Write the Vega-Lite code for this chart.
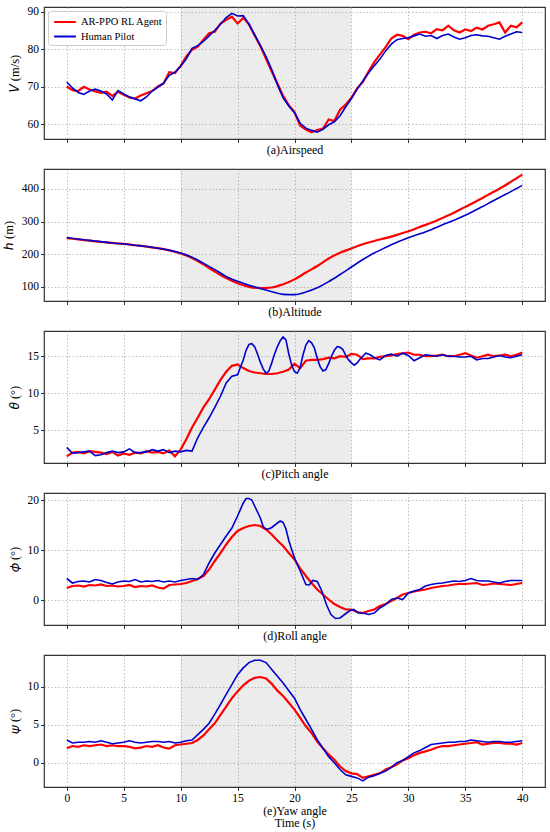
{
  "$schema": "https://vega.github.io/schema/vega-lite/v6.json",
  "description": "Flight state comparison: AR-PPO RL agent vs human pilot",
  "padding": {"left": 1, "top": 4, "right": 5, "bottom": 5},
  "background": "white",
  "datasets": {
    "shade": [{"start": 10, "end": 25}],
    "vA": [
      {"t":0,"v":70.0},{"t":0.5,"v":69.0},{"t":1,"v":68.8},{"t":1.5,"v":69.9},{"t":2,"v":69.2},{"t":2.5,"v":68.7},{"t":3,"v":68.3},{"t":3.5,"v":68.6},{"t":4,"v":67.5},{"t":4.5,"v":68.6},
      {"t":5,"v":67.8},{"t":5.5,"v":67.1},{"t":6,"v":66.8},{"t":6.5,"v":67.6},{"t":7,"v":68.2},{"t":7.5,"v":68.8},{"t":8,"v":70.0},{"t":8.5,"v":70.8},{"t":9,"v":73.8},{"t":9.5,"v":73.6},
      {"t":10,"v":75.5},{"t":10.5,"v":78.0},{"t":11,"v":79.8},{"t":11.5,"v":80.6},{"t":12,"v":82.5},{"t":12.5,"v":84.2},{"t":13,"v":84.6},{"t":13.5,"v":86.8},{"t":14,"v":87.8},{"t":14.5,"v":88.6},
      {"t":15,"v":86.8},{"t":15.5,"v":88.3},{"t":16,"v":86.6},{"t":16.5,"v":83.6},{"t":17,"v":80.8},{"t":17.5,"v":77.4},{"t":18,"v":74.0},{"t":18.5,"v":70.8},{"t":19,"v":67.5},{"t":19.5,"v":65.0},
      {"t":20,"v":63.2},{"t":20.5,"v":59.5},{"t":21,"v":58.5},{"t":21.5,"v":57.8},{"t":22,"v":58.4},{"t":22.5,"v":58.8},{"t":23,"v":61.2},{"t":23.5,"v":60.8},{"t":24,"v":63.8},{"t":24.5,"v":65.2},
      {"t":25,"v":67.0},{"t":25.5,"v":69.5},{"t":26,"v":71.2},{"t":26.5,"v":74.0},{"t":27,"v":76.5},{"t":27.5,"v":78.5},{"t":28,"v":80.5},{"t":28.5,"v":82.8},{"t":29,"v":83.8},{"t":29.5,"v":83.5},
      {"t":30,"v":82.6},{"t":30.5,"v":83.8},{"t":31,"v":84.4},{"t":31.5,"v":84.6},{"t":32,"v":84.2},{"t":32.5,"v":85.3},{"t":33,"v":85.0},{"t":33.5,"v":86.2},{"t":34,"v":85.0},{"t":34.5,"v":84.4},
      {"t":35,"v":85.2},{"t":35.5,"v":84.8},{"t":36,"v":85.7},{"t":36.5,"v":85.2},{"t":37,"v":86.2},{"t":37.5,"v":86.6},{"t":38,"v":87.1},{"t":38.5,"v":84.4},{"t":39,"v":86.2},{"t":39.5,"v":85.8},{"t":40,"v":87.1}
    ],
    "vP": [
      {"t":0,"v":71.2},{"t":0.5,"v":69.6},{"t":1,"v":68.4},{"t":1.5,"v":67.9},{"t":2,"v":68.8},{"t":2.5,"v":69.3},{"t":3,"v":68.8},{"t":3.5,"v":68.0},{"t":4,"v":66.4},{"t":4.5,"v":68.9},
      {"t":5,"v":68.0},{"t":5.5,"v":67.2},{"t":6,"v":66.7},{"t":6.5,"v":66.2},{"t":7,"v":67.2},{"t":7.5,"v":68.8},{"t":8,"v":69.8},{"t":8.5,"v":70.9},{"t":9,"v":73.0},{"t":9.5,"v":73.8},
      {"t":10,"v":75.4},{"t":10.5,"v":77.4},{"t":11,"v":80.2},{"t":11.5,"v":80.9},{"t":12,"v":82.0},{"t":12.5,"v":83.5},{"t":13,"v":85.0},{"t":13.5,"v":86.6},{"t":14,"v":88.4},{"t":14.5,"v":89.5},
      {"t":15,"v":88.8},{"t":15.5,"v":88.9},{"t":16,"v":86.6},{"t":16.5,"v":83.8},{"t":17,"v":81.0},{"t":17.5,"v":78.0},{"t":18,"v":74.5},{"t":18.5,"v":70.5},{"t":19,"v":67.0},{"t":19.5,"v":64.8},
      {"t":20,"v":63.0},{"t":20.5,"v":60.2},{"t":21,"v":58.9},{"t":21.5,"v":58.3},{"t":22,"v":57.8},{"t":22.5,"v":58.6},{"t":23,"v":59.8},{"t":23.5,"v":60.6},{"t":24,"v":62.2},{"t":24.5,"v":64.6},
      {"t":25,"v":66.8},{"t":25.5,"v":69.3},{"t":26,"v":71.5},{"t":26.5,"v":73.6},{"t":27,"v":75.5},{"t":27.5,"v":77.3},{"t":28,"v":79.5},{"t":28.5,"v":81.3},{"t":29,"v":82.5},{"t":29.5,"v":82.8},
      {"t":30,"v":83.0},{"t":30.5,"v":83.5},{"t":31,"v":84.0},{"t":31.5,"v":83.4},{"t":32,"v":83.6},{"t":32.5,"v":82.8},{"t":33,"v":83.6},{"t":33.5,"v":84.0},{"t":34,"v":83.2},{"t":34.5,"v":82.6},
      {"t":35,"v":83.0},{"t":35.5,"v":83.6},{"t":36,"v":83.8},{"t":36.5,"v":83.5},{"t":37,"v":83.4},{"t":37.5,"v":83.0},{"t":38,"v":82.6},{"t":38.5,"v":83.4},{"t":39,"v":84.0},{"t":39.5,"v":84.6},{"t":40,"v":84.4}
    ],
    "hA": [
      {"t":0,"v":249},{"t":1,"v":245},{"t":2,"v":241},{"t":3,"v":237},{"t":4,"v":234},{"t":5,"v":231},{"t":6,"v":227},{"t":7,"v":223},{"t":8,"v":218},{"t":9,"v":211},
      {"t":10,"v":202},{"t":11,"v":188},{"t":12,"v":168},{"t":13,"v":146},{"t":14,"v":126},{"t":15,"v":110},{"t":16,"v":99},{"t":17,"v":95},{"t":18,"v":97},{"t":19,"v":107},
      {"t":20,"v":122},{"t":21,"v":143},{"t":22,"v":163},{"t":23,"v":186},{"t":24,"v":204},{"t":25,"v":217},{"t":26,"v":230},{"t":27,"v":240},{"t":28,"v":249},{"t":29,"v":259},
      {"t":30,"v":270},{"t":31,"v":283},{"t":32,"v":296},{"t":33,"v":311},{"t":34,"v":327},{"t":35,"v":345},{"t":36,"v":363},{"t":37,"v":382},{"t":38,"v":401},{"t":39,"v":422},{"t":40,"v":444}
    ],
    "hP": [
      {"t":0,"v":251},{"t":1,"v":246},{"t":2,"v":242},{"t":3,"v":238},{"t":4,"v":234},{"t":5,"v":231},{"t":6,"v":227},{"t":7,"v":223},{"t":8,"v":218},{"t":9,"v":212},
      {"t":10,"v":203},{"t":11,"v":190},{"t":12,"v":172},{"t":13,"v":152},{"t":14,"v":131},{"t":15,"v":116},{"t":16,"v":104},{"t":17,"v":94},{"t":18,"v":84},{"t":19,"v":76},
      {"t":20,"v":75},{"t":21,"v":83},{"t":22,"v":96},{"t":23,"v":115},{"t":24,"v":137},{"t":25,"v":160},{"t":26,"v":183},{"t":27,"v":203},{"t":28,"v":220},{"t":29,"v":236},
      {"t":30,"v":250},{"t":31,"v":262},{"t":32,"v":275},{"t":33,"v":290},{"t":34,"v":304},{"t":35,"v":319},{"t":36,"v":337},{"t":37,"v":355},{"t":38,"v":374},{"t":39,"v":392},{"t":40,"v":411}
    ],
    "thA": [
      {"t":0,"v":1.5},{"t":0.5,"v":2.0},{"t":1,"v":2.1},{"t":1.5,"v":1.9},{"t":2,"v":2.2},{"t":2.5,"v":2.1},{"t":3,"v":2.0},{"t":3.5,"v":1.8},{"t":4,"v":2.1},{"t":4.5,"v":1.6},
      {"t":5,"v":1.9},{"t":5.5,"v":1.7},{"t":6,"v":2.0},{"t":6.5,"v":1.9},{"t":7,"v":2.2},{"t":7.5,"v":2.0},{"t":8,"v":2.1},{"t":8.5,"v":1.9},{"t":9,"v":2.3},{"t":9.5,"v":1.5},
      {"t":10,"v":2.4},{"t":10.5,"v":3.8},{"t":11,"v":5.4},{"t":11.5,"v":6.7},{"t":12,"v":8.1},{"t":12.5,"v":9.2},{"t":13,"v":10.5},{"t":13.5,"v":11.8},{"t":14,"v":12.9},{"t":14.5,"v":13.7},
      {"t":15,"v":13.9},{"t":15.5,"v":13.4},{"t":16,"v":13.0},{"t":16.5,"v":12.8},{"t":17,"v":12.7},{"t":17.5,"v":12.6},{"t":18,"v":12.6},{"t":18.5,"v":12.7},{"t":19,"v":12.9},{"t":19.5,"v":13.2},
      {"t":20,"v":14.0},{"t":20.5,"v":13.4},{"t":21,"v":14.4},{"t":21.5,"v":14.5},{"t":22,"v":14.5},{"t":22.5,"v":14.6},{"t":23,"v":14.8},{"t":23.5,"v":14.7},{"t":24,"v":15.0},{"t":24.5,"v":14.9},
      {"t":25,"v":15.3},{"t":25.5,"v":15.2},{"t":26,"v":14.6},{"t":26.5,"v":14.7},{"t":27,"v":14.7},{"t":27.5,"v":14.9},{"t":28,"v":15.0},{"t":28.5,"v":15.1},{"t":29,"v":15.3},{"t":29.5,"v":15.4},
      {"t":30,"v":15.5},{"t":30.5,"v":15.2},{"t":31,"v":15.2},{"t":31.5,"v":15.0},{"t":32,"v":15.0},{"t":32.5,"v":15.1},{"t":33,"v":15.2},{"t":33.5,"v":15.0},{"t":34,"v":15.0},{"t":34.5,"v":15.2},
      {"t":35,"v":15.4},{"t":35.5,"v":15.1},{"t":36,"v":14.8},{"t":36.5,"v":15.0},{"t":37,"v":15.2},{"t":37.5,"v":15.0},{"t":38,"v":15.1},{"t":38.5,"v":15.2},{"t":39,"v":15.0},{"t":39.5,"v":15.2},{"t":40,"v":15.5}
    ],
    "thP": [
      {"t":0,"v":2.7},{"t":0.5,"v":1.9},{"t":1,"v":2.0},{"t":1.5,"v":2.1},{"t":2,"v":2.2},{"t":2.5,"v":1.6},{"t":3,"v":1.7},{"t":3.5,"v":2.0},{"t":4,"v":2.2},{"t":4.5,"v":2.0},
      {"t":5,"v":2.1},{"t":5.5,"v":2.5},{"t":6,"v":2.0},{"t":6.5,"v":2.0},{"t":7,"v":2.1},{"t":7.5,"v":2.4},{"t":8,"v":2.2},{"t":8.5,"v":2.4},{"t":9,"v":2.0},{"t":9.5,"v":2.2},
      {"t":10,"v":2.1},{"t":10.5,"v":2.3},{"t":11,"v":2.2},{"t":11.5,"v":4.0},{"t":12,"v":5.4},{"t":12.5,"v":6.7},{"t":13,"v":8.1},{"t":13.5,"v":9.6},{"t":14,"v":11.4},{"t":14.5,"v":12.3},
      {"t":15,"v":12.5},{"t":15.25,"v":13.5},{"t":15.5,"v":14.5},{"t":15.75,"v":15.8},{"t":16,"v":16.6},{"t":16.25,"v":16.7},{"t":16.5,"v":16.3},{"t":16.75,"v":15.3},{"t":17,"v":14.2},{"t":17.25,"v":13.3},
      {"t":17.5,"v":12.7},{"t":17.75,"v":13.0},{"t":18,"v":14.1},{"t":18.25,"v":15.3},{"t":18.5,"v":16.3},{"t":18.75,"v":17.1},{"t":19,"v":17.6},{"t":19.25,"v":17.2},{"t":19.5,"v":15.3},{"t":19.75,"v":13.8},
      {"t":20,"v":12.9},{"t":20.25,"v":12.7},{"t":20.5,"v":13.5},{"t":20.75,"v":15.2},{"t":21,"v":16.5},{"t":21.25,"v":17.1},{"t":21.5,"v":16.8},{"t":21.75,"v":16.1},{"t":22,"v":14.7},{"t":22.25,"v":13.6},
      {"t":22.5,"v":13.0},{"t":22.75,"v":13.2},{"t":23,"v":14.0},{"t":23.25,"v":15.0},{"t":23.5,"v":15.8},{"t":23.75,"v":16.3},{"t":24,"v":16.2},{"t":24.25,"v":15.9},{"t":24.5,"v":15.1},{"t":24.75,"v":14.5},
      {"t":25,"v":14.1},{"t":25.25,"v":13.8},{"t":25.5,"v":14.1},{"t":25.75,"v":14.6},{"t":26,"v":15.0},{"t":26.25,"v":15.4},{"t":26.5,"v":15.3},{"t":26.75,"v":15.1},{"t":27,"v":14.8},{"t":27.5,"v":14.5},
      {"t":28,"v":15.1},{"t":28.5,"v":15.3},{"t":29,"v":15.0},{"t":29.5,"v":15.4},{"t":30,"v":15.1},{"t":30.5,"v":14.4},{"t":31,"v":14.8},{"t":31.5,"v":15.2},{"t":32,"v":15.1},{"t":32.5,"v":15.0},
      {"t":33,"v":15.2},{"t":33.5,"v":15.0},{"t":34,"v":15.0},{"t":34.5,"v":14.9},{"t":35,"v":14.9},{"t":35.5,"v":15.0},{"t":36,"v":14.5},{"t":36.5,"v":14.7},{"t":37,"v":14.7},{"t":37.5,"v":14.9},
      {"t":38,"v":15.1},{"t":38.5,"v":14.9},{"t":39,"v":14.8},{"t":39.5,"v":15.0},{"t":40,"v":15.2}
    ],
    "phA": [
      {"t":0,"v":2.5},{"t":0.5,"v":2.9},{"t":1,"v":3.0},{"t":1.5,"v":2.8},{"t":2,"v":3.1},{"t":2.5,"v":3.0},{"t":3,"v":3.2},{"t":3.5,"v":2.9},{"t":4,"v":3.0},{"t":4.5,"v":2.8},
      {"t":5,"v":2.9},{"t":5.5,"v":3.1},{"t":6,"v":2.7},{"t":6.5,"v":2.9},{"t":7,"v":2.8},{"t":7.5,"v":3.0},{"t":8,"v":2.6},{"t":8.5,"v":2.4},{"t":9,"v":3.1},{"t":9.5,"v":3.2},
      {"t":10,"v":3.3},{"t":10.5,"v":3.5},{"t":11,"v":3.9},{"t":11.5,"v":4.3},{"t":12,"v":4.9},{"t":12.5,"v":6.2},{"t":13,"v":7.9},{"t":13.5,"v":9.5},{"t":14,"v":11.2},{"t":14.5,"v":12.7},
      {"t":15,"v":13.9},{"t":15.5,"v":14.5},{"t":16,"v":14.9},{"t":16.5,"v":15.1},{"t":17,"v":14.9},{"t":17.5,"v":14.2},{"t":18,"v":13.2},{"t":18.5,"v":12.0},{"t":19,"v":10.9},{"t":19.5,"v":9.5},
      {"t":20,"v":8.2},{"t":20.5,"v":6.4},{"t":21,"v":4.9},{"t":21.5,"v":3.5},{"t":22,"v":2.2},{"t":22.5,"v":1.2},{"t":23,"v":0.2},{"t":23.5,"v":-0.7},{"t":24,"v":-1.3},{"t":24.5,"v":-1.8},
      {"t":25,"v":-1.8},{"t":25.5,"v":-2.3},{"t":26,"v":-2.5},{"t":26.5,"v":-2.1},{"t":27,"v":-1.8},{"t":27.5,"v":-1.1},{"t":28,"v":-0.7},{"t":28.5,"v":-0.1},{"t":29,"v":0.5},{"t":29.5,"v":1.2},
      {"t":30,"v":1.5},{"t":30.5,"v":1.8},{"t":31,"v":2.0},{"t":31.5,"v":2.2},{"t":32,"v":2.5},{"t":32.5,"v":2.7},{"t":33,"v":2.9},{"t":33.5,"v":3.0},{"t":34,"v":3.2},{"t":34.5,"v":3.3},
      {"t":35,"v":3.3},{"t":35.5,"v":3.4},{"t":36,"v":3.5},{"t":36.5,"v":3.1},{"t":37,"v":3.2},{"t":37.5,"v":3.4},{"t":38,"v":3.3},{"t":38.5,"v":3.2},{"t":39,"v":3.1},{"t":39.5,"v":3.3},{"t":40,"v":3.5}
    ],
    "phP": [
      {"t":0,"v":4.4},{"t":0.5,"v":3.5},{"t":1,"v":3.8},{"t":1.5,"v":3.9},{"t":2,"v":3.7},{"t":2.5,"v":4.2},{"t":3,"v":4.0},{"t":3.5,"v":3.6},{"t":4,"v":3.3},{"t":4.5,"v":3.7},
      {"t":5,"v":3.9},{"t":5.5,"v":3.8},{"t":6,"v":4.2},{"t":6.5,"v":3.7},{"t":7,"v":3.9},{"t":7.5,"v":3.8},{"t":8,"v":4.0},{"t":8.5,"v":3.7},{"t":9,"v":3.9},{"t":9.5,"v":3.7},
      {"t":10,"v":4.0},{"t":10.5,"v":4.2},{"t":11,"v":4.4},{"t":11.5,"v":4.2},{"t":12,"v":5.2},{"t":12.5,"v":7.5},{"t":13,"v":9.5},{"t":13.5,"v":11.2},{"t":14,"v":12.9},{"t":14.5,"v":14.5},
      {"t":15,"v":16.9},{"t":15.5,"v":19.5},{"t":15.75,"v":20.4},{"t":16,"v":20.4},{"t":16.25,"v":20.1},{"t":16.5,"v":18.9},{"t":17,"v":16.5},{"t":17.25,"v":14.8},{"t":17.5,"v":14.3},{"t":17.75,"v":14.3},
      {"t":18,"v":14.6},{"t":18.5,"v":15.5},{"t":18.75,"v":15.9},{"t":19,"v":15.6},{"t":19.25,"v":14.3},{"t":19.5,"v":12.0},{"t":19.75,"v":10.2},{"t":20,"v":8.5},{"t":20.5,"v":5.9},{"t":21,"v":3.2},
      {"t":21.3,"v":3.1},{"t":21.6,"v":4.0},{"t":22,"v":3.8},{"t":22.4,"v":1.9},{"t":22.8,"v":-0.8},{"t":23.2,"v":-2.8},{"t":23.6,"v":-3.6},{"t":24,"v":-3.5},{"t":24.4,"v":-2.8},{"t":24.8,"v":-2.1},
      {"t":25.2,"v":-1.8},{"t":25.6,"v":-2.5},{"t":26,"v":-2.5},{"t":26.5,"v":-2.8},{"t":27,"v":-2.5},{"t":27.5,"v":-1.5},{"t":28,"v":-0.8},{"t":28.5,"v":0.2},{"t":29,"v":0.5},{"t":29.5,"v":0.2},
      {"t":30,"v":1.5},{"t":30.5,"v":1.9},{"t":31,"v":2.2},{"t":31.5,"v":2.9},{"t":32,"v":3.2},{"t":32.5,"v":3.4},{"t":33,"v":3.5},{"t":33.5,"v":3.7},{"t":34,"v":3.9},{"t":34.5,"v":3.8},
      {"t":35,"v":4.0},{"t":35.5,"v":4.4},{"t":36,"v":4.0},{"t":36.5,"v":3.9},{"t":37,"v":3.9},{"t":37.5,"v":3.7},{"t":38,"v":3.5},{"t":38.5,"v":3.8},{"t":39,"v":4.0},{"t":39.5,"v":4.0},{"t":40,"v":4.0}
    ],
    "psA": [
      {"t":0,"v":1.9},{"t":0.5,"v":2.2},{"t":1,"v":2.1},{"t":1.5,"v":2.3},{"t":2,"v":2.2},{"t":2.5,"v":2.3},{"t":3,"v":2.4},{"t":3.5,"v":2.2},{"t":4,"v":2.3},{"t":4.5,"v":2.2},
      {"t":5,"v":2.2},{"t":5.5,"v":2.1},{"t":6,"v":1.9},{"t":6.5,"v":2.0},{"t":7,"v":2.2},{"t":7.5,"v":2.1},{"t":8,"v":2.3},{"t":8.5,"v":2.0},{"t":9,"v":1.85},{"t":9.5,"v":2.3},
      {"t":10,"v":2.4},{"t":10.5,"v":2.5},{"t":11,"v":2.6},{"t":11.5,"v":3.0},{"t":12,"v":3.6},{"t":12.5,"v":4.4},{"t":13,"v":5.2},{"t":13.5,"v":6.3},{"t":14,"v":7.4},{"t":14.5,"v":8.5},
      {"t":15,"v":9.4},{"t":15.5,"v":10.2},{"t":16,"v":10.8},{"t":16.5,"v":11.2},{"t":17,"v":11.3},{"t":17.5,"v":11.1},{"t":18,"v":10.4},{"t":18.5,"v":9.5},{"t":19,"v":8.8},{"t":19.5,"v":7.9},
      {"t":20,"v":7.0},{"t":20.5,"v":5.9},{"t":21,"v":4.8},{"t":21.5,"v":3.9},{"t":22,"v":2.8},{"t":22.5,"v":1.9},{"t":23,"v":1.1},{"t":23.5,"v":0.4},{"t":24,"v":-0.5},{"t":24.5,"v":-1.1},
      {"t":25,"v":-1.4},{"t":25.5,"v":-1.5},{"t":26,"v":-2.0},{"t":26.5,"v":-1.8},{"t":27,"v":-1.6},{"t":27.5,"v":-1.4},{"t":28,"v":-0.9},{"t":28.5,"v":-0.6},{"t":29,"v":-0.2},{"t":29.5,"v":0.3},
      {"t":30,"v":0.6},{"t":30.5,"v":1.0},{"t":31,"v":1.3},{"t":31.5,"v":1.5},{"t":32,"v":1.7},{"t":32.5,"v":2.0},{"t":33,"v":2.2},{"t":33.5,"v":2.2},{"t":34,"v":2.3},{"t":34.5,"v":2.4},
      {"t":35,"v":2.5},{"t":35.5,"v":2.6},{"t":36,"v":2.7},{"t":36.5,"v":2.4},{"t":37,"v":2.5},{"t":37.5,"v":2.6},{"t":38,"v":2.6},{"t":38.5,"v":2.5},{"t":39,"v":2.5},{"t":39.5,"v":2.4},{"t":40,"v":2.6}
    ],
    "psP": [
      {"t":0,"v":3.0},{"t":0.5,"v":2.6},{"t":1,"v":2.7},{"t":1.5,"v":2.7},{"t":2,"v":2.8},{"t":2.5,"v":2.7},{"t":3,"v":2.9},{"t":3.5,"v":2.7},{"t":4,"v":2.5},{"t":4.5,"v":2.6},
      {"t":5,"v":2.7},{"t":5.5,"v":2.9},{"t":6,"v":2.7},{"t":6.5,"v":2.6},{"t":7,"v":2.7},{"t":7.5,"v":2.8},{"t":8,"v":2.8},{"t":8.5,"v":2.7},{"t":9,"v":2.8},{"t":9.5,"v":2.6},
      {"t":10,"v":2.7},{"t":10.5,"v":2.9},{"t":11,"v":3.0},{"t":11.5,"v":3.7},{"t":12,"v":4.4},{"t":12.5,"v":5.2},{"t":13,"v":6.4},{"t":13.5,"v":7.7},{"t":14,"v":9.0},{"t":14.5,"v":10.3},
      {"t":15,"v":11.6},{"t":15.5,"v":12.5},{"t":16,"v":13.2},{"t":16.5,"v":13.5},{"t":17,"v":13.5},{"t":17.5,"v":13.2},{"t":18,"v":12.3},{"t":18.5,"v":11.4},{"t":19,"v":10.5},{"t":19.5,"v":9.5},
      {"t":20,"v":8.5},{"t":20.5,"v":7.0},{"t":21,"v":5.7},{"t":21.5,"v":4.4},{"t":22,"v":3.0},{"t":22.5,"v":1.9},{"t":23,"v":0.8},{"t":23.5,"v":0.0},{"t":24,"v":-0.9},{"t":24.5,"v":-1.6},
      {"t":25,"v":-1.8},{"t":25.5,"v":-2.0},{"t":26,"v":-2.4},{"t":26.5,"v":-1.9},{"t":27,"v":-1.7},{"t":27.5,"v":-1.4},{"t":28,"v":-1.1},{"t":28.5,"v":-0.6},{"t":29,"v":0.0},{"t":29.5,"v":0.3},
      {"t":30,"v":0.8},{"t":30.5,"v":1.3},{"t":31,"v":1.6},{"t":31.5,"v":2.0},{"t":32,"v":2.4},{"t":32.5,"v":2.5},{"t":33,"v":2.6},{"t":33.5,"v":2.7},{"t":34,"v":2.7},{"t":34.5,"v":2.8},
      {"t":35,"v":2.8},{"t":35.5,"v":3.0},{"t":36,"v":2.9},{"t":36.5,"v":2.8},{"t":37,"v":2.7},{"t":37.5,"v":2.8},{"t":38,"v":2.8},{"t":38.5,"v":2.7},{"t":39,"v":2.7},{"t":39.5,"v":2.8},{"t":40,"v":2.9}
    ]
  },
  "vconcat": [
    {
      "width": 501,
      "height": 132,
      "layer": [
        {
          "data": {"name": "shade"},
          "mark": {"type": "rect", "color": "gray", "opacity": 0.15},
          "encoding": {
            "x": {"field": "start", "type": "quantitative", "scale": {"domain": [-2, 42], "nice": false},
                  "axis": {"values": [0,5,10,15,20,25,30,35,40], "labels": false, "title": "(a)Airspeed", "titlePadding": 2}},
            "x2": {"field": "end"}
          }
        },
        {
          "data": {"name": "vA"},
          "mark": {"type": "line", "strokeWidth": 2.2},
          "encoding": {
            "x": {"field": "t", "type": "quantitative", "title": "(a)Airspeed"},
            "y": {"field": "v", "type": "quantitative", "scale": {"domain": [56, 91.2], "nice": false, "zero": false},
                  "axis": {"values": [60,70,80,90], "title": "𝑉 (m/s)"}},
            "color": {"datum": "AR-PPO RL Agent", "type": "nominal",
                      "scale": {"domain": ["AR-PPO RL Agent", "Human Pilot"], "range": ["#ff0000", "#0000cc"]},
                      "legend": {"title": null, "orient": "top-left", "offset": 4}}
          }
        },
        {
          "data": {"name": "vP"},
          "mark": {"type": "line", "strokeWidth": 1.6},
          "encoding": {
            "x": {"field": "t", "type": "quantitative", "title": "(a)Airspeed"},
            "y": {"field": "v", "type": "quantitative", "title": "𝑉 (m/s)"},
            "color": {"datum": "Human Pilot", "type": "nominal"}
          }
        }
      ]
    },
    {
      "width": 501,
      "height": 132,
      "layer": [
        {
          "data": {"name": "shade"},
          "mark": {"type": "rect", "color": "gray", "opacity": 0.15},
          "encoding": {
            "x": {"field": "start", "type": "quantitative", "scale": {"domain": [-2, 42], "nice": false},
                  "axis": {"values": [0,5,10,15,20,25,30,35,40], "labels": false, "title": "(b)Altitude", "titlePadding": 2}},
            "x2": {"field": "end"}
          }
        },
        {
          "data": {"name": "hA"},
          "mark": {"type": "line", "strokeWidth": 2.2, "interpolate": "monotone"},
          "encoding": {
            "x": {"field": "t", "type": "quantitative", "title": "(b)Altitude"},
            "y": {"field": "v", "type": "quantitative", "scale": {"domain": [55.5, 461.5], "nice": false, "zero": false},
                  "axis": {"values": [100,200,300,400], "title": "ℎ (m)"}},
            "color": {"datum": "AR-PPO RL Agent", "type": "nominal",
                      "scale": {"domain": ["AR-PPO RL Agent", "Human Pilot"], "range": ["#ff0000", "#0000cc"]},
                      "legend": null}
          }
        },
        {
          "data": {"name": "hP"},
          "mark": {"type": "line", "strokeWidth": 1.6, "interpolate": "monotone"},
          "encoding": {
            "x": {"field": "t", "type": "quantitative", "title": "(b)Altitude"},
            "y": {"field": "v", "type": "quantitative", "title": "ℎ (m)"},
            "color": {"datum": "Human Pilot", "type": "nominal"}
          }
        }
      ]
    },
    {
      "width": 501,
      "height": 132,
      "layer": [
        {
          "data": {"name": "shade"},
          "mark": {"type": "rect", "color": "gray", "opacity": 0.15},
          "encoding": {
            "x": {"field": "start", "type": "quantitative", "scale": {"domain": [-2, 42], "nice": false},
                  "axis": {"values": [0,5,10,15,20,25,30,35,40], "labels": false, "title": "(c)Pitch angle", "titlePadding": 2}},
            "x2": {"field": "end"}
          }
        },
        {
          "data": {"name": "thA"},
          "mark": {"type": "line", "strokeWidth": 2.2},
          "encoding": {
            "x": {"field": "t", "type": "quantitative", "title": "(c)Pitch angle"},
            "y": {"field": "v", "type": "quantitative", "scale": {"domain": [0.6, 18.4], "nice": false, "zero": false},
                  "axis": {"values": [5,10,15], "title": "𝜃 (°)"}},
            "color": {"datum": "AR-PPO RL Agent", "type": "nominal",
                      "scale": {"domain": ["AR-PPO RL Agent", "Human Pilot"], "range": ["#ff0000", "#0000cc"]},
                      "legend": null}
          }
        },
        {
          "data": {"name": "thP"},
          "mark": {"type": "line", "strokeWidth": 1.6},
          "encoding": {
            "x": {"field": "t", "type": "quantitative", "title": "(c)Pitch angle"},
            "y": {"field": "v", "type": "quantitative", "title": "𝜃 (°)"},
            "color": {"datum": "Human Pilot", "type": "nominal"}
          }
        }
      ]
    },
    {
      "width": 501,
      "height": 132,
      "layer": [
        {
          "data": {"name": "shade"},
          "mark": {"type": "rect", "color": "gray", "opacity": 0.15},
          "encoding": {
            "x": {"field": "start", "type": "quantitative", "scale": {"domain": [-2, 42], "nice": false},
                  "axis": {"values": [0,5,10,15,20,25,30,35,40], "labels": false, "title": "(d)Roll angle", "titlePadding": 2}},
            "x2": {"field": "end"}
          }
        },
        {
          "data": {"name": "phA"},
          "mark": {"type": "line", "strokeWidth": 2.2},
          "encoding": {
            "x": {"field": "t", "type": "quantitative", "title": "(d)Roll angle"},
            "y": {"field": "v", "type": "quantitative", "scale": {"domain": [-4.9, 21.5], "nice": false, "zero": false},
                  "axis": {"values": [0,5,10,15,20], "title": "𝜙 (°)"}},
            "color": {"datum": "AR-PPO RL Agent", "type": "nominal",
                      "scale": {"domain": ["AR-PPO RL Agent", "Human Pilot"], "range": ["#ff0000", "#0000cc"]},
                      "legend": null}
          }
        },
        {
          "data": {"name": "phP"},
          "mark": {"type": "line", "strokeWidth": 1.6},
          "encoding": {
            "x": {"field": "t", "type": "quantitative", "title": "(d)Roll angle"},
            "y": {"field": "v", "type": "quantitative", "title": "𝜙 (°)"},
            "color": {"datum": "Human Pilot", "type": "nominal"}
          }
        }
      ]
    },
    {
      "width": 501,
      "height": 132,
      "layer": [
        {
          "data": {"name": "shade"},
          "mark": {"type": "rect", "color": "gray", "opacity": 0.15},
          "encoding": {
            "x": {"field": "start", "type": "quantitative", "scale": {"domain": [-2, 42], "nice": false},
                  "axis": {"values": [0,5,10,15,20,25,30,35,40], "labelPadding": 2, "title": ["(e)Yaw angle", "Time (s)"], "titlePadding": 1, "titleLineHeight": 12.5}},
            "x2": {"field": "end"}
          }
        },
        {
          "data": {"name": "psA"},
          "mark": {"type": "line", "strokeWidth": 2.2},
          "encoding": {
            "x": {"field": "t", "type": "quantitative", "title": ["(e)Yaw angle", "Time (s)"]},
            "y": {"field": "v", "type": "quantitative", "scale": {"domain": [-3.2, 14.2], "nice": false, "zero": false},
                  "axis": {"values": [0,5,10], "title": "𝜓 (°)"}},
            "color": {"datum": "AR-PPO RL Agent", "type": "nominal",
                      "scale": {"domain": ["AR-PPO RL Agent", "Human Pilot"], "range": ["#ff0000", "#0000cc"]},
                      "legend": null}
          }
        },
        {
          "data": {"name": "psP"},
          "mark": {"type": "line", "strokeWidth": 1.6},
          "encoding": {
            "x": {"field": "t", "type": "quantitative", "title": ["(e)Yaw angle", "Time (s)"]},
            "y": {"field": "v", "type": "quantitative", "title": "𝜓 (°)"},
            "color": {"datum": "Human Pilot", "type": "nominal"}
          }
        }
      ]
    }
  ],
  "spacing": 30,
  "bounds": "flush",
  "resolve": {"scale": {"color": "independent"}},
  "config": {
    "font": "Liberation Serif",
    "view": {"stroke": "#333333", "strokeWidth": 1.2},
    "axis": {
      "labelFont": "Liberation Serif",
      "labelFontSize": 11.5,
      "labelColor": "black",
      "titleFont": "Liberation Serif",
      "titleFontSize": 12.5,
      "titleFontWeight": "normal",
      "titleColor": "black",
      "tickColor": "black",
      "tickSize": 3.5,
      "tickWidth": 0.8,
      "domain": false,
      "grid": true,
      "gridColor": "#b0b0b0",
      "gridDash": [1.5, 2],
      "gridWidth": 0.8
    },
    "axisX": {"titleFontSize": 12},
    "axisY": {"titlePadding": 6, "labelPadding": 2},
    "legend": {
      "labelFont": "Liberation Serif",
      "labelFontSize": 10.5,
      "labelColor": "black",
      "symbolType": "M-1.55,0H1.55",
      "symbolSize": 196,
      "symbolOffset": 6,
      "symbolStrokeWidth": 2,
      "strokeColor": "#cccccc",
      "fillColor": "white",
      "padding": 3,
      "cornerRadius": 3,
      "rowPadding": 0.5,
      "labelOffset": 8
    }
  }
}
